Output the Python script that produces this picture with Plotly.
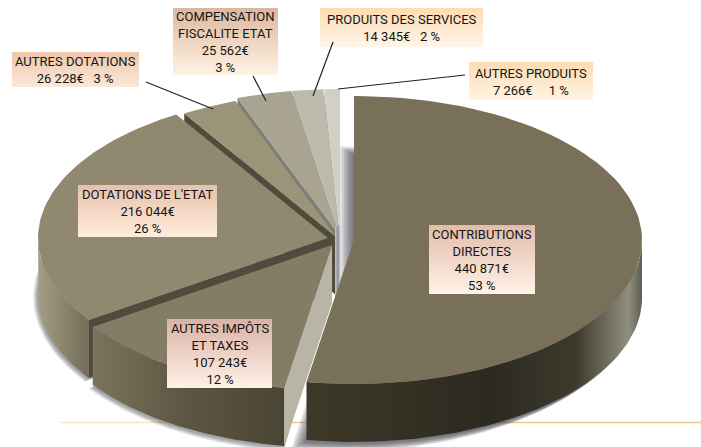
import numpy as np
import plotly.graph_objects as go

# ---- data ----
categories = ["CONTRIBUTIONS DIRECTES", "AUTRES IMPÔTS ET TAXES", "DOTATIONS DE L'ETAT",
              "AUTRES DOTATIONS", "COMPENSATION FISCALITE ETAT", "PRODUITS DES SERVICES", "AUTRES PRODUITS"]
values = [440871, 107243, 216044, 26228, 25562, 14345, 7266]
label_texts = [
    "CONTRIBUTIONS<br>DIRECTES<br>440 871€<br>53 %",
    "AUTRES IMPÔTS<br>ET TAXES<br>107 243€<br>12 %",
    "DOTATIONS DE L'ETAT<br>216 044€<br>26 %",
    "AUTRES DOTATIONS<br>26 228€   3 %",
    "COMPENSATION<br>FISCALITE ETAT<br>25 562€<br>3 %",
    "PRODUITS DES SERVICES<br>14 345€   2 %",
    "AUTRES PRODUITS<br>7 266€     1 %",
]

# ---- styles and layout ----
DEPTH = 58
centres = [(354, 240), (332, 245), (328, 238), (336, 237), (338, 234), (339, 234), (340, 234)]
radii = [(288, 144), (290, 145), (290, 145), (290, 145), (290, 145), (290, 145), (290, 145)]
top_colors = ["#79705a", "#857c65", "#90886f", "#9b9478", "#a9a491", "#bdbaab", "#d2d0c6"]
cut_colors = [None, "#b8b5a6", "#4f4c3d", "#4f4c3d", "#7f7e74", "#a3a298", "#b5b4ab"]
wall_scales = [
    [[0, "#3d3828"], [0.55, "#2c2920"], [0.8, "#3c392c"], [0.96, "#8f8f80"], [1, "#5f5d4d"]],
    [[0, "#7b745d"], [0.45, "#5e5743"], [1, "#4a4434"]],
    [[0, "#a59e85"], [1, "#736c56"]],
    None, None, None, None,
]
boxes = [  # x0, x1, y0, y1, top colour, bottom colour
    (429, 535, 225, 294, "#e2bcaa", "#fff2e6"),
    (167, 272, 319, 388, "#d9b2a4", "#fff2e6"),
    (78, 217, 185, 237, "#e6c1ad", "#ffeddb"),
    (12, 139, 52, 87, "#eec6ab", "#fbe8d8"),
    (173, 278, 8, 75, "#dcb79f", "#fff3e3"),
    (320, 483, 8, 47, "#fddcb4", "#fff6ea"),
    (469, 593, 62, 100, "#fddcb4", "#fff3e3"),
]
leaders = [(146, 82, 213, 109), (253, 76, 266, 101), (333, 42, 313, 96), (465, 75, 338, 89)]

# ---- angles from the values (clockwise from 12 o'clock) ----
edges = np.concatenate([[0], np.cumsum(values) / sum(values) * 360.0])


def rim(i, a0, a1, dy=0, grow=0, n=80):
    t = np.radians(np.linspace(a0, a1, n))
    cx, cy = centres[i]
    a, b = radii[i]
    return cx + (a + grow) * np.sin(t), cy + dy - (b + grow) * np.cos(t)


fig = go.Figure()


def poly(x, y, color=None, scale=None, kind="horizontal"):
    kw = dict(x=list(x) + [x[0]], y=list(y) + [y[0]], mode="lines", fill="toself",
              line=dict(width=0), hoverinfo="skip", showlegend=False)
    if scale is not None:
        kw["fillgradient"] = dict(type=kind, colorscale=scale)
        kw["fillcolor"] = "rgba(0,0,0,0)"
    else:
        kw["fillcolor"] = color
    fig.add_trace(go.Scatter(**kw))


def top_face(i):
    x, y = rim(i, edges[i], edges[i + 1])
    poly(np.r_[centres[i][0], x], np.r_[centres[i][1], y], top_colors[i])


def cut_face(i, ang):
    x, y = rim(i, ang, ang, n=1)
    cx, cy = centres[i]
    poly([cx, x[0], x[0], cx], [cy, y[0], y[0] + DEPTH, cy + DEPTH], cut_colors[i])


def wall(i):
    a0, a1 = max(edges[i], 90), min(edges[i + 1], 270)
    if a1 <= a0:
        return
    x, y = rim(i, a0, a1)
    poly(np.r_[x, x[::-1]], np.r_[y, y[::-1] + DEPTH], scale=wall_scales[i])


def shadow(i, layers=(2, 4, 6, 8, 10, 12, 14)):
    for k in layers:
        a0, a1 = max(edges[i], 0), edges[i + 1]
        x, y = rim(i, a0, a1, dy=DEPTH + 1, grow=k * 0.6)
        cx, cy = centres[i]
        poly(np.r_[cx - k, x - (k if i == 0 else 0), ], np.r_[cy + DEPTH, y], "rgba(50,50,55,0.13)")


# shadows under the discs
shadow(0)
shadow(1, (2, 4, 6, 8))
shadow(2, (2, 4, 6, 8))

# small back slices
for i in (6, 5, 4, 3):
    cut_face(i, edges[i])
    top_face(i)

# sliver behind the apex
cx, cy = centres[6]
poly([cx - 5, cx + 1, cx + 1, cx - 5], [cy - 8, cy - 8, cy + DEPTH + 4, cy + DEPTH + 4],
     scale=[[0, "#c4c6c8"], [0.5, "#8f929a"], [1, "#e8e8e8"]])

# dotations
wall(2)
cut_face(2, edges[2])
top_face(2)

# autres impôts
wall(1)
cut_face(1, edges[1])
top_face(1)

# contributions
wall(0)
top_face(0)

# label boxes
for (x0, x1, y0, y1, c0, c1), text in zip(boxes, label_texts):
    poly([x0, x1, x1, x0], [y1, y1, y0, y0],
         scale=[[0, c1], [1, c0]], kind="vertical")
    fig.add_annotation(x=(x0 + x1) / 2, y=(y0 + y1) / 2 + 0.5, text=text, showarrow=False,
                       font=dict(family="Roboto, Liberation Sans", size=13, color="#141414"),
                       align="center", xanchor="center", yanchor="middle")

# leader lines
shapes = [dict(type="line", xref="x", yref="y", x0=a, y0=b, x1=c, y1=d,
               line=dict(color="#222222", width=1.2), layer="above") for a, b, c, d in leaders]
# gold rule behind the pie
shapes.append(dict(type="line", xref="x", yref="y", x0=60, x1=180, y0=422.5, y1=422.5,
                   line=dict(color="#f6e6c4", width=1.5), layer="below"))
shapes.append(dict(type="line", xref="x", yref="y", x0=180, x1=701, y0=422.5, y1=422.5,
                   line=dict(color="#efc88c", width=1.5), layer="below"))

fig.update_layout(
    width=701, height=447, margin=dict(l=0, r=0, t=0, b=0),
    paper_bgcolor="white", plot_bgcolor="white", showlegend=False, shapes=shapes,
    xaxis=dict(range=[0, 701], visible=False, fixedrange=True),
    yaxis=dict(range=[447, 0], visible=False, fixedrange=True),
)
fig.write_html("out.html", config={"displayModeBar": False},
               post_script="document.body.style.margin='0';document.documentElement.style.overflow='hidden';")
